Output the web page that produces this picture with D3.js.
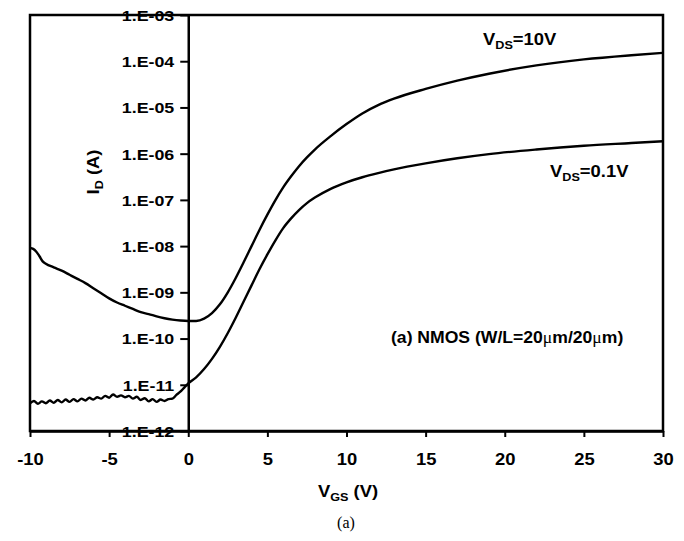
<!DOCTYPE html>
<html>
<head>
<meta charset="utf-8">
<script src="https://cdn.jsdelivr.net/npm/d3@7/dist/d3.min.js"></script>
<style>
  html, body { margin: 0; padding: 0; background: #fff; }
  svg { display: block; }
  text { font-family: "Liberation Sans", Arial, Helvetica, sans-serif; font-weight: bold; fill: #000; }
</style>
</head>
<body>
<svg id="chart" width="684" height="541"></svg>
<script>
// ---- data (log10 of I_D in A) ----
const vgsHigh = [-10, -9.8, -9.6, -9.4, -9.2, -9.0, -8.5, -8, -7.5, -7, -6.5, -6, -5.5, -5, -4.5, -4, -3.5, -3, -2.5, -2, -1.5, -1, -0.5, 0, 0.5, 1, 1.5, 2, 2.5, 3, 3.5, 4, 4.5, 5, 5.5, 6, 6.5, 7, 7.5, 8, 9, 10, 11, 12, 13, 15, 17, 19, 22, 25, 28, 30];
const logIdHigh = [-8.04, -8.06, -8.12, -8.22, -8.33, -8.38, -8.46, -8.53, -8.62, -8.71, -8.80, -8.91, -9.02, -9.13, -9.22, -9.29, -9.36, -9.43, -9.47, -9.52, -9.56, -9.59, -9.61, -9.62, -9.62, -9.57, -9.45, -9.26, -9.00, -8.69, -8.35, -8.00, -7.65, -7.32, -7.01, -6.73, -6.49, -6.27, -6.08, -5.91, -5.62, -5.36, -5.13, -4.95, -4.81, -4.60, -4.42, -4.27, -4.09, -3.96, -3.87, -3.82];

const vgsLow = [-10, -9.75, -9.5, -9.25, -9, -8.75, -8.5, -8.25, -8, -7.75, -7.5, -7.25, -7, -6.75, -6.5, -6.25, -6, -5.75, -5.5, -5.25, -5, -4.75, -4.5, -4.25, -4, -3.75, -3.5, -3.25, -3, -2.75, -2.5, -2.25, -2, -1.75, -1.5, -1.25, -1, -0.75, -0.5, -0.25, 0, 0.5, 1, 1.5, 2, 2.5, 3, 3.5, 4, 4.5, 5, 5.5, 6, 6.5, 7, 7.5, 8, 9, 10, 11, 12, 13, 15, 17, 19, 22, 25, 28, 30];
const logIdLow = [-11.40, -11.35, -11.41, -11.36, -11.40, -11.34, -11.39, -11.33, -11.38, -11.32, -11.37, -11.31, -11.36, -11.30, -11.34, -11.28, -11.32, -11.27, -11.30, -11.24, -11.28, -11.21, -11.26, -11.23, -11.27, -11.24, -11.30, -11.26, -11.33, -11.29, -11.36, -11.31, -11.37, -11.32, -11.35, -11.31, -11.30, -11.22, -11.15, -11.06, -10.97, -10.84, -10.66, -10.44, -10.18, -9.88, -9.55, -9.20, -8.85, -8.50, -8.18, -7.88, -7.61, -7.40, -7.22, -7.07, -6.95, -6.76, -6.62, -6.51, -6.42, -6.34, -6.21, -6.10, -6.01, -5.91, -5.83, -5.77, -5.73];

const xTicks = [-10, -5, 0, 5, 10, 15, 20, 25, 30];
const xTickLabels = ["-10", "-5", "0", "5", "10", "15", "20", "25", "30"];
const yTicks = [1e-12, 1e-11, 1e-10, 1e-9, 1e-8, 1e-7, 1e-6, 1e-5, 1e-4, 1e-3];
const yTickLabels = ["1.E-12", "1.E-11", "1.E-10", "1.E-09", "1.E-08", "1.E-07", "1.E-06", "1.E-05", "1.E-04", "1.E-03"];

// ---- layout ----
const L = 30, R = 663, T = 15, B = 431;
const SX = 1.15; // horizontal stretch of the bold sans text
const svg = d3.select("#chart");

const x = d3.scaleLinear().domain([-10, 30]).range([L, R]);
const y = d3.scaleLog().domain([1e-12, 1e-3]).range([B, T]);

// frame
svg.append("rect").attr("x", L).attr("y", T).attr("width", R - L).attr("height", B - T)
  .attr("fill", "none").attr("stroke", "#000").attr("stroke-width", 2.5);

// x axis
const gx = svg.append("g").attr("transform", `translate(0,${B})`)
  .call(d3.axisBottom(x).tickValues(xTicks).tickSize(6).tickSizeOuter(0)
    .tickFormat((d, i) => xTickLabels[i]));
gx.select(".domain").attr("stroke-width", 2.5);
gx.selectAll(".tick line").attr("stroke-width", 2);
gx.selectAll(".tick text").attr("y", 0).attr("dy", null)
  .attr("transform", `translate(0,34) scale(${SX},1)`)
  .style("font-size", "16px").style("font-family", "Liberation Sans, Arial, sans-serif").style("font-weight", "bold");

// y axis at VGS = 0
const gy = svg.append("g").attr("transform", `translate(${x(0)},0)`)
  .call(d3.axisLeft(y).tickValues(yTicks).tickSize(8).tickSizeOuter(0)
    .tickFormat((d, i) => yTickLabels[i]));
gy.select(".domain").attr("stroke-width", 2.5);
gy.selectAll(".tick line").attr("stroke-width", 2);
gy.selectAll(".tick text").attr("x", 0).attr("dy", "0.35em")
  .attr("transform", `translate(-14,0) scale(${SX},1)`)
  .style("font-size", "15.5px").style("font-family", "Liberation Sans, Arial, sans-serif").style("font-weight", "bold");

// curves
const line = d3.line().x(d => x(d[0])).y(d => y(Math.pow(10, d[1]))).curve(d3.curveMonotoneX);
svg.append("path").datum(vgsHigh.map((v, i) => [v, logIdHigh[i]]))
  .attr("d", line).attr("fill", "none").attr("stroke", "#000").attr("stroke-width", 2.4);
svg.append("path").datum(vgsLow.map((v, i) => [v, logIdLow[i]]))
  .attr("d", line).attr("fill", "none").attr("stroke", "#000").attr("stroke-width", 2.4);

// helper for label with subscript
function subLabel(px, py, main, sub, rest, anchor, rot) {
  const t = svg.append("text")
    .attr("transform", `translate(${px},${py})${rot ? " rotate(" + rot + ")" : ""} scale(${SX},1)`)
    .attr("text-anchor", anchor || "start")
    .style("font-size", "16px");
  t.append("tspan").text(main);
  t.append("tspan").attr("dy", 4).style("font-size", "11px").text(sub);
  t.append("tspan").attr("dy", -4).text(rest);
  return t;
}

subLabel(483, 45, "V", "DS", "=10V");
subLabel(550, 177, "V", "DS", "=0.1V");
subLabel(348, 497, "V", "GS", " (V)", "middle");
subLabel(99, 172, "I", "D", " (A)", "middle", -90);

// annotation
const ann = svg.append("text").attr("transform", `translate(391,343) scale(1.1,1)`).style("font-size", "16px");
ann.append("tspan").text("(a) NMOS (W/L=20");
ann.append("tspan").style("font-family", "Liberation Serif, serif").style("font-weight", "normal").text("\u03bc");
ann.append("tspan").text("m/20");
ann.append("tspan").style("font-family", "Liberation Serif, serif").style("font-weight", "normal").text("\u03bc");
ann.append("tspan").text("m)");

// caption
svg.append("text").attr("x", 346).attr("y", 528).attr("text-anchor", "middle")
  .style("font-family", "Liberation Serif, Times New Roman, serif").style("font-weight", "normal")
  .style("font-size", "16px").text("(a)");
</script>
</body>
</html>
